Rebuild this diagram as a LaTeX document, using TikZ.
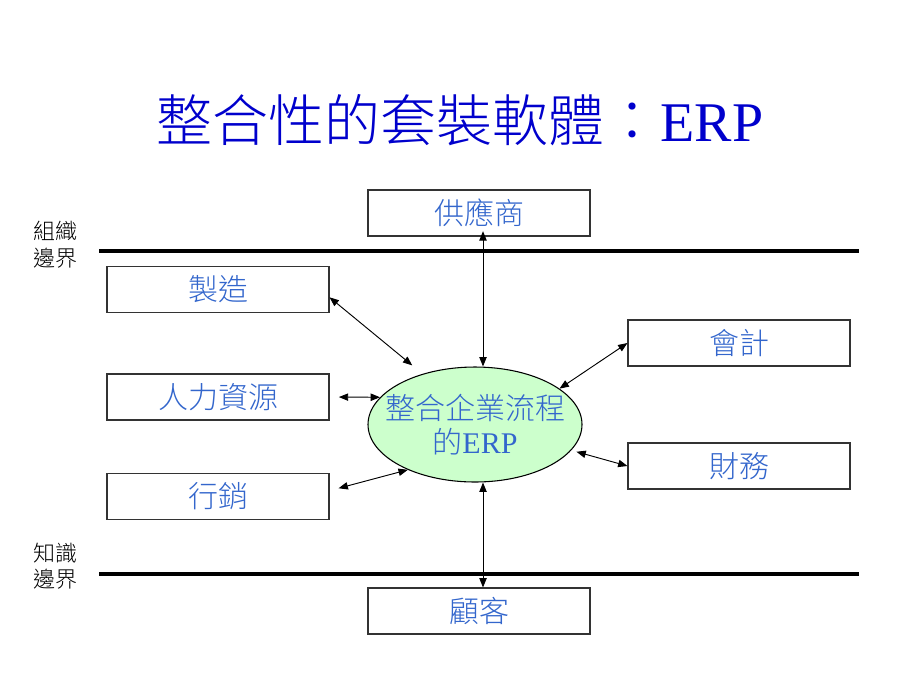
\documentclass[tikz,border=0pt]{standalone}
\usepackage{fontspec}
\setmainfont{Liberation Serif}
\newfontfamily\cjk{Noto Sans CJK TC Light}
\usetikzlibrary{arrows.meta,shapes.geometric}
\definecolor{titleblue}{RGB}{0,0,204}
\definecolor{boxblue}{RGB}{51,102,204}
\definecolor{erpgreen}{RGB}{204,255,204}

\begin{document}
\begin{tikzpicture}[x=0.75pt,y=-0.75pt,
  unit/.style={draw=black!80, line width=0.8pt, minimum width=166.5pt, minimum height=34.5pt, inner sep=0pt, text=boxblue, font=\cjk\fontsize{22.5}{26}\selectfont},
  link/.style={{Triangle[length=7pt,width=5.5pt]}-{Triangle[length=7pt,width=5.5pt]}, line width=0.7pt},
  side/.style={anchor=west, align=left, inner sep=0pt, font=\cjk\fontsize{16.5}{20}\selectfont}]
\useasboundingbox (0,0) rectangle (920,690);
\node[text=titleblue, font=\fontsize{42}{48}\selectfont] (title) at (460,120) {{\cjk 整合性的套裝軟體：}ERP};
% boundaries
\draw[line width=3pt] (99,251) -- (859,251);
\draw[line width=3pt] (99,574) -- (859,574);
\node[side] (orgb) at (33,244.5) {組織\\邊界};
\node[side] (knowb) at (33,566) {知識\\邊界};
% units
\node[unit] (sup) at (479,213) {供應商};
\node[unit] (manu) at (218,289.5) {製造};
\node[unit] (hr) at (218,397) {人力資源};
\node[unit] (mkt) at (218,496.5) {行銷};
\node[unit] (acct) at (739,343) {會計};
\node[unit] (fin) at (739,466) {財務};
\node[unit] (cust) at (479,611) {顧客};
\node[ellipse, draw, line width=0.8pt, fill=erpgreen, minimum width=160.5pt, minimum height=86.25pt, inner sep=0pt] (erp) at (475,424.5) {};
\node[text=boxblue, align=center, font=\cjk\fontsize{22.5}{26}\selectfont] (erptext) at (erp.center) {整合企業流程\\的{\rmfamily ERP}};
\coordinate (axis) at (483,0);
% links
\draw[link, shorten <=-4pt] (sup.south -| axis) -- (erp.north -| axis);
\draw[link, shorten >=10pt] (manu.-4) -- (erp.136);
\draw[link, shorten <=7pt] (hr.east) -- (erp.164);
\draw[link, shorten <=7pt] (mkt.3) -- (erp.214);
\draw[link] (acct.west) -- (erp.23);
\draw[link, shorten >=4pt] (fin.west) -- (erp.-15);
\draw[link] (erp.south -| axis) -- (cust.north -| axis);
\end{tikzpicture}
\end{document}
